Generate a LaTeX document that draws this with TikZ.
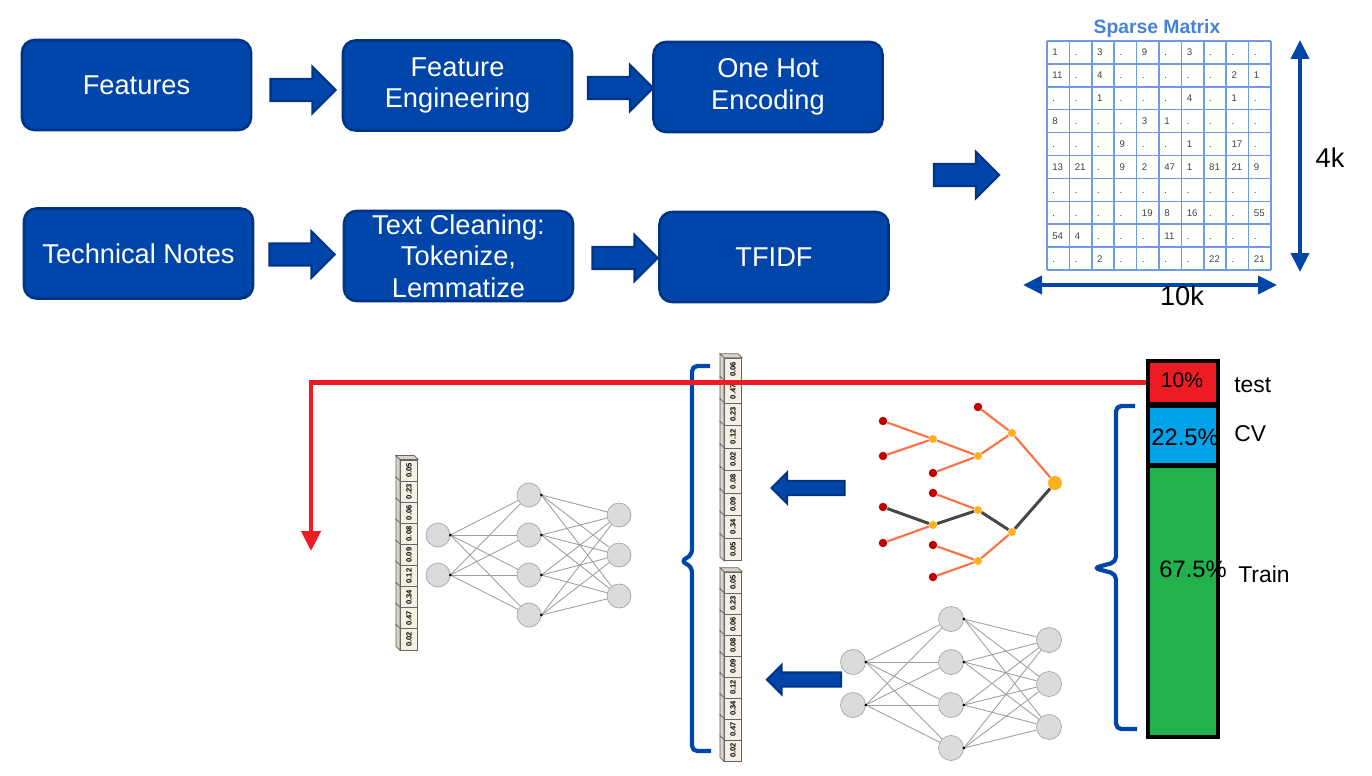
\documentclass[tikz,border=0pt]{standalone}
\usepackage{fontspec}
\setmainfont{Liberation Sans}
\usetikzlibrary{arrows.meta, shapes.arrows, backgrounds}

\definecolor{boxblue}{RGB}{0,70,170}
\definecolor{boxedge}{RGB}{0,52,135}
\definecolor{gridblue}{RGB}{110,155,225}
\definecolor{titleblue}{RGB}{70,130,215}
\definecolor{testred}{RGB}{237,28,36}
\definecolor{cvblue}{RGB}{0,162,232}
\definecolor{traingreen}{RGB}{34,177,76}
\definecolor{leafred}{RGB}{192,0,0}
\definecolor{splitorange}{RGB}{255,176,32}
\definecolor{edgeorange}{RGB}{255,112,67}
\definecolor{cellbeige}{RGB}{246,240,226}

\tikzset{
	stage/.style = {draw = boxedge, line width = 1.5pt, fill = boxblue, rounded corners = 0.25cm, minimum width = 4.58cm, minimum height = 1.8cm, text = white, align = center, inner sep = 0pt, font = \fontsize{15.5}{18}\selectfont},
	blockarrow/.style = {single arrow, draw = boxedge, line width = 1.2pt, fill = boxblue, inner xsep = 0pt, inner ysep = 0.2cm, single arrow head extend = 0.24cm, minimum height = 1.3cm},
	neuron/.style = {circle, draw = gray!70, fill = gray!28, minimum size = 0.48cm, inner sep = 0pt},
	synapse/.style = {gray!75, line width = 0.5pt},
	vcell/.style = {draw = gray!80!black, fill = cellbeige, line width = 0.4pt, minimum width = 0.35cm, inner sep = 0pt, font = \fontsize{4.3}{4.3}\selectfont\bfseries},
	cellside/.style = {draw = gray!80!black, fill = cellbeige!75!gray, line width = 0.4pt},
	leaf/.style = {circle, fill = leafred, minimum size = 0.17cm, inner sep = 0pt},
	split/.style = {circle, fill = splitorange, minimum size = 0.16cm, inner sep = 0pt},
	branch/.style = {edgeorange, line width = 1.2pt},
	trunk/.style = {black!72, line width = 1.7pt},
	brace/.style = {boxblue, line width = 2.4pt, rounded corners = 3pt},
	share/.style = {draw = black, line width = 2.3pt, minimum width = 1.4cm, inner sep = 0pt},
	lbl/.style = {font = \fontsize{13}{15}\selectfont, inner sep = 0pt}
}

\begin{document}
\begin{tikzpicture}[x = 0.02cm, y = -0.02cm]

	\useasboundingbox (0, 0) rectangle (1372, 776);

	% Pipeline boxes

	\node [stage] (feat) at (136.5, 85) {Features};
	\node [stage] (feng) at (457.5, 85.5) {Feature\\Engineering};
	\node [stage] (onehot) at (768, 87) {One Hot\\Encoding};
	\node [stage] (notes) at (138.5, 253.5) {Technical Notes};
	\node [stage] (clean) at (458.5, 256) {Text Cleaning:\\Tokenize,\\Lemmatize};
	\node [stage] (tfidf) at (774, 257) {TFIDF};

	\node [blockarrow] (a1) at (297.5, 90) {};
	\node [blockarrow] (a2) at (615, 88) {};
	\node [blockarrow] (a3) at (296.5, 254.5) {};
	\node [blockarrow] (a4) at (619.5, 258) {};
	\node [blockarrow] (a5) at (961, 175) {};

	% Sparse matrix

	\node [font = \fontsize{11}{13}\selectfont\bfseries, text = titleblue] (mtitle) at (1157, 29) {Sparse Matrix};

	\foreach \k in {0, 1, ..., 10}
	{
		\draw [gridblue, line width = 0.9pt] ({1047 + \k * 22.4}, 41) -- ({1047 + \k * 22.4}, 270);
		\draw [gridblue, line width = 0.9pt] (1047, {41 + \k * 22.9}) -- (1271, {41 + \k * 22.9});
	}

	\foreach \row [count = \r] in {
		{1,.,3,.,9,.,3,.,.,.},
		{11,.,4,.,.,.,.,.,2,1},
		{.,.,1,.,.,.,4,.,1,.},
		{8,.,.,.,3,1,.,.,.,.},
		{.,.,.,9,.,.,1,.,17,.},
		{13,21,.,9,2,47,1,81,21,9},
		{.,.,.,.,.,.,.,.,.,.},
		{.,.,.,.,19,8,16,.,.,55},
		{54,4,.,.,.,11,.,.,.,.},
		{.,.,2,.,.,.,.,22,.,21}}
	{
		\foreach \v [count = \c] in \row
			\node [anchor = west, inner sep = 0pt, text height = 4pt, text depth = 0pt, font = \fontsize{5.5}{6}\selectfont, text = black!75] at ({1047 + (\c - 1) * 22.4 + 5}, {41 + (\r - 0.5) * 22.9}) {\v};
	}

	\coordinate (mtop) at (1300, 40);
	\coordinate (mbot) at (1300, 272);
	\coordinate (mleft) at (1023, 285);
	\coordinate (mright) at (1277, 285);
	\draw [boxblue, line width = 2.3pt, {Triangle[length = 0.38cm, width = 0.36cm]}-{Triangle[length = 0.38cm, width = 0.36cm]}] (mtop) -- (mbot);
	\draw [boxblue, line width = 2.3pt, {Triangle[length = 0.38cm, width = 0.36cm]}-{Triangle[length = 0.38cm, width = 0.36cm]}] (mleft) -- (mright);
	\node [lbl, font = \fontsize{15.5}{18}\selectfont] (rows) at (1330, 158) {4k};
	\node [lbl, font = \fontsize{15.5}{18}\selectfont] (cols) at (1182, 296) {10k};

	% Data split

	\node [share, fill = testred, minimum height = 0.86cm] (test) at (1183, 382.5) {};
	\node [share, fill = cvblue, minimum height = 1.18cm] (cv) at (1183, 435.5) {};
	\node [share, fill = traingreen, minimum height = 5.42cm] (train) at (1183, 601.5) {};

	\node [lbl, font = \fontsize{12}{14}\selectfont] (ptest) at (1182, 380) {10\%};
	\node [lbl, font = \fontsize{13.5}{15}\selectfont] (pcv) at (1185, 437) {22.5\%};
	\node [lbl, font = \fontsize{13.5}{15}\selectfont] (ptrain) at (1193, 569) {67.5\%};
	\node [lbl, anchor = west] (ltest) at (1234, 385) {test};
	\node [lbl, anchor = west] (lcv) at (1234, 434) {CV};
	\node [lbl, anchor = west] (ltrain) at (1238, 574) {Train};

	\draw [brace] (1135, 406) -- (1116, 406) -- (1116, 562) -- (1094, 568) -- (1116, 574) -- (1116, 729) -- (1137, 729);

	% Decision tree

	\node [split, minimum size = 0.28cm] (troot) at (1055, 483) {};
	\node [split] (tc) at (1012, 433) {};
	\node [split] (tb) at (978, 456) {};
	\node [split] (ta) at (933, 439) {};
	\node [split] (tf) at (1012, 532) {};
	\node [split] (te) at (978, 510) {};
	\node [split] (td) at (933, 525) {};
	\node [split] (tg) at (978, 561) {};

	\foreach \n/\x/\y in {1/883/421, 2/883/456, 3/933/473, 4/978/407, 5/883/507, 6/883/543, 7/933/493, 8/933/545, 9/933/577}
		\node [leaf] (tl\n) at (\x, \y) {};

	\begin{scope}[on background layer]
		\draw [branch] (tl1) -- (ta);
		\draw [branch] (tl2) -- (ta);
		\draw [branch] (ta) -- (tb);
		\draw [branch] (tl3) -- (tb);
		\draw [branch] (tb) -- (tc);
		\draw [branch] (tl4) -- (tc);
		\draw [branch] (tc) -- (troot);
		\draw [branch] (tl6) -- (td);
		\draw [branch] (tl7) -- (te);
		\draw [branch] (tf) -- (tg);
		\draw [branch] (tl8) -- (tg);
		\draw [branch] (tl9) -- (tg);
		\draw [trunk] (troot) -- (tf);
		\draw [trunk] (tf) -- (te);
		\draw [trunk] (te) -- (td);
		\draw [trunk] (td) -- (tl5);
	\end{scope}

	\node [blockarrow, shape border rotate = 180, inner ysep = 0.12cm, minimum height = 1.46cm, single arrow head extend = 0.17cm] (back1) at (811.5, 488) {};

	% Neural network, right

	\foreach \i/\y in {1/662, 2/705}
		\node [neuron, minimum size = 0.5cm] (bin\i) at (853, \y) {};
	\foreach \j/\y in {1/619, 2/662, 3/705, 4/748}
		\node [neuron, minimum size = 0.5cm] (bhid\j) at (951, \y) {};
	\foreach \k/\y in {1/640, 2/684, 3/727}
		\node [neuron, minimum size = 0.5cm] (bout\k) at (1049, \y) {};

	\foreach \i in {1, 2}
		\foreach \j in {1, ..., 4}
			\draw [synapse] (bin\i.east) -- (bhid\j);
	\foreach \j in {1, ..., 4}
		\foreach \k in {1, 2, 3}
			\draw [synapse] (bhid\j.east) -- (bout\k);
	\foreach \i in {1, 2}
		\fill (bin\i.east) circle (1.5);
	\foreach \j in {1, ..., 4}
		\fill (bhid\j.east) circle (1.5);

	\node [blockarrow, shape border rotate = 180, inner ysep = 0.12cm, minimum height = 1.48cm, single arrow head extend = 0.15cm] (back2) at (807.5, 679.5) {};

	% Neural network, left

	\foreach \i/\y in {1/535, 2/575}
		\node [neuron] (ain\i) at (438, \y) {};
	\foreach \j/\y in {1/495, 2/535, 3/575, 4/615}
		\node [neuron] (ahid\j) at (529, \y) {};
	\foreach \k/\y in {1/515, 2/555, 3/596}
		\node [neuron] (aout\k) at (619, \y) {};

	\foreach \i in {1, 2}
		\foreach \j in {1, ..., 4}
			\draw [synapse] (ain\i.east) -- (ahid\j);
	\foreach \j in {1, ..., 4}
		\foreach \k in {1, 2, 3}
			\draw [synapse] (ahid\j.east) -- (aout\k);
	\foreach \i in {1, 2}
		\fill (ain\i.east) circle (1.5);
	\foreach \j in {1, ..., 4}
		\fill (ahid\j.east) circle (1.5);

	% Feature vectors

	\foreach \v [count = \i] in {0.05, 0.23, 0.06, 0.08, 0.09, 0.12, 0.34, 0.47, 0.02}
	{
		\node [vcell, minimum height = 0.424cm] (va\i) at (409, {460 + (\i - 0.5) * 21.1}) {\rotatebox{90}{\v}};
		\draw [cellside] (va\i.north west) -- ++(-4, -4) -- ([shift = {(-4, -4)}] va\i.south west) -- (va\i.south west) -- cycle;
	}
	\draw [cellside] (va1.north west) -- ++(-4, -4) -- ([shift = {(-4, -4)}] va1.north east) -- (va1.north east) -- cycle;

	\foreach \v [count = \i] in {0.06, 0.47, 0.23, 0.12, 0.02, 0.08, 0.09, 0.34, 0.05}
	{
		\node [vcell, minimum height = 0.45cm] (vb\i) at (733, {358 + (\i - 0.5) * 22.5}) {\rotatebox{90}{\v}};
		\draw [cellside] (vb\i.north west) -- ++(-4, -4) -- ([shift = {(-4, -4)}] vb\i.south west) -- (vb\i.south west) -- cycle;
	}
	\draw [cellside] (vb1.north west) -- ++(-4, -4) -- ([shift = {(-4, -4)}] vb1.north east) -- (vb1.north east) -- cycle;

	\foreach \v [count = \i] in {0.05, 0.23, 0.06, 0.08, 0.09, 0.12, 0.34, 0.47, 0.02}
	{
		\node [vcell, minimum height = 0.42cm] (vc\i) at (733, {572 + (\i - 0.5) * 21}) {\rotatebox{90}{\v}};
		\draw [cellside] (vc\i.north west) -- ++(-4, -4) -- ([shift = {(-4, -4)}] vc\i.south west) -- (vc\i.south west) -- cycle;
	}
	\draw [cellside] (vc1.north west) -- ++(-4, -4) -- ([shift = {(-4, -4)}] vc1.north east) -- (vc1.north east) -- cycle;

	\draw [brace] (710, 366) -- (692, 366) -- (692, 555) -- (681, 561) -- (692, 567) -- (692, 751) -- (711, 751);

	% Test set route

	\coordinate (turn) at (311, 381);
	\coordinate (route) at (311, 551);
	\draw [testred, line width = 2.4pt, -{Triangle[length = 0.4cm, width = 0.38cm]}] (test.west) -- (test.west -| turn) -- (route);

\end{tikzpicture}
\end{document}
